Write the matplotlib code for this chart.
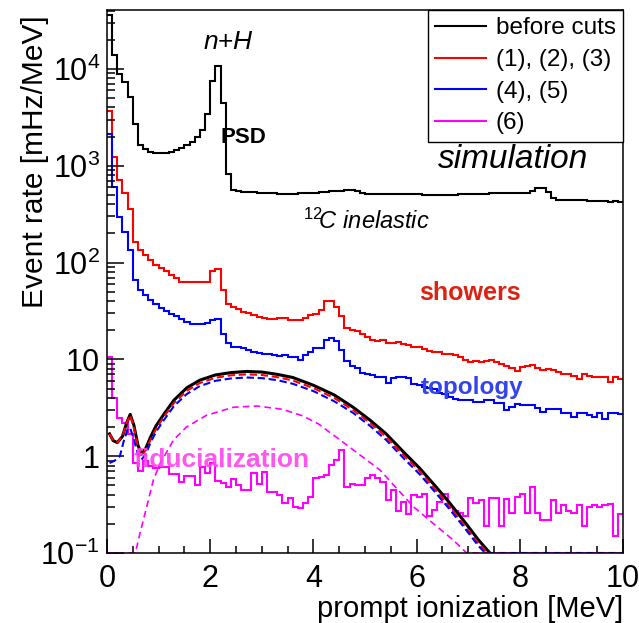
import numpy as np
import matplotlib

matplotlib.use('Agg')
import matplotlib.pyplot as plt
from matplotlib.ticker import FixedLocator, LogLocator, NullFormatter, FuncFormatter, MultipleLocator

plt.rcParams['font.family'] = ['Liberation Sans', 'DejaVu Sans']
plt.rcParams['mathtext.fontset'] = 'custom'
plt.rcParams['mathtext.rm'] = 'Liberation Sans'
plt.rcParams['mathtext.it'] = 'Liberation Sans:italic'

# 100 bins of 0.1 MeV, rates in mHz/MeV
edges = np.linspace(0, 10, 101)

before_cuts = [
    3.6e4, 1.38e4, 8.9e3, 7.3e3, 5.1e3, 2.7e3, 1.62e3, 1.5e3, 1.38e3, 1.35e3,
    1.36e3, 1.37e3, 1.38e3, 1.44e3, 1.51e3, 1.62e3, 1.76e3, 1.99e3, 2.33e3, 3.46e3,
    7.5e3, 1.08e4, 4.5e3, 830, 560, 545, 540, 535, 530, 525,
    520, 520, 518, 515, 515, 515, 515, 518, 520, 525,
    525, 530, 540, 545, 550, 555, 567, 567, 545, 520,
    515, 515, 515, 515, 510, 510, 510, 505, 505, 505,
    505, 500, 495, 495, 495, 495, 495, 500, 505, 510,
    515, 515, 515, 515, 518, 520, 520, 520, 520, 520,
    520, 525, 555, 590, 585, 530, 460, 445, 440, 440,
    440, 440, 438, 436, 435, 430, 428, 425, 428, 425,
]

cuts_123 = [
    3.7e3, 1.23e3, 710, 520, 360, 163, 134, 119, 106, 94,
    87, 81, 75, 69, 63, 63, 63, 63, 63, 63,
    82, 85, 52, 37, 35, 33, 31, 30, 28.5, 27.5,
    26.8, 26.3, 26, 26.5, 27, 25.8, 25.4, 25.4, 26.8, 28.4,
    29.3, 32.2, 40.2, 40.2, 34.8, 27.9, 21.3, 20.3, 19.7, 18.2,
    17.1, 16.0, 15.5, 16.0, 14.8, 14.6, 15.1, 14.4, 14.0, 13.5,
    13.3, 12.7, 12.2, 11.9, 11.9, 11.3, 11.3, 11.0, 10.6, 9.97,
    9.45, 9.67, 9.45, 9.67, 9.8, 9.5, 9.06, 8.5, 8.24, 7.6,
    8.4, 8.5, 8.7, 8.24, 7.7, 7.86, 7.7, 7.4, 7.14, 7.0,
    6.8, 6.2, 7.14, 6.7, 6.6, 6.6, 6.5, 5.9, 6.5, 6.2,
]

cuts_45 = [
    2.14e3, 600, 296, 207, 134, 65.6, 51.8, 46, 41.5, 37.1,
    34.3, 31.7, 29.3, 27.9, 26.4, 24.4, 23.1, 23.1, 23.1, 23.8,
    25.8, 26.4, 18.5, 14.6, 13.5, 13.3, 13.0, 12.5, 12.0, 11.7,
    11.3, 11.3, 11.1, 10.8, 11.0, 10.6, 10.5, 9.8, 11.0, 11.9,
    13.2, 13.2, 16.0, 16.8, 15.5, 12.6, 9.7, 8.5, 8.2, 7.3,
    7.0, 6.9, 6.5, 6.5, 5.7, 6.4, 6.5, 6.5, 6.4, 5.6,
    5.5, 5.2, 5.1, 4.9, 4.5, 4.4, 4.1, 3.94, 3.85, 3.85,
    3.85, 3.65, 3.65, 3.79, 3.79, 3.56, 3.56, 2.99, 3.24, 3.45,
    3.37, 3.37, 3.37, 3.11, 2.87, 3.04, 3.04, 3.04, 2.81, 2.81,
    2.51, 2.76, 2.76, 2.65, 2.55, 2.76, 2.40, 2.76, 2.81, 2.7,
]

cut_6 = [
    10.6, 3.95, 2.5, 2.2, 1.7, 0.85, 0.7, 0.9, 0.8, 0.75,
    0.78, 0.78, 0.66, 0.66, 0.54, 0.62, 0.62, 0.5, 0.78, 0.67,
    0.85, 0.55, 0.53, 0.48, 0.58, 0.50, 0.45, 0.45, 0.67, 0.52,
    0.69, 0.43, 0.43, 0.40, 0.33, 0.37, 0.30, 0.29, 0.33, 0.38,
    0.59, 0.61, 0.64, 0.81, 0.91, 1.17, 0.48, 0.52, 0.50, 0.50,
    0.59, 0.64, 0.59, 0.54, 0.35, 0.45, 0.27, 0.34, 0.25, 0.40,
    0.38, 0.41, 0.24, 0.28, 0.34, 0.41, 0.30, 0.27, 0.26, 0.24,
    0.37, 0.33, 0.35, 0.19, 0.37, 0.37, 0.19, 0.36, 0.26, 0.38,
    0.41, 0.26, 0.48, 0.26, 0.22, 0.22, 0.35, 0.26, 0.31, 0.27,
    0.26, 0.31, 0.19, 0.30, 0.31, 0.30, 0.31, 0.32, 0.15, 0.25,
]

# expected IBD signal spectra (smooth curves)
sig_e_all = [0.05, 0.12, 0.2, 0.3, 0.38, 0.45, 0.52, 0.6, 0.67, 0.75, 0.85, 0.95, 1.1, 1.3, 1.55,
             1.8, 2.1, 2.4, 2.7, 3.0, 3.3, 3.6, 4.0, 4.4, 4.77, 5.1, 5.41, 5.75, 6.06, 6.35,
             6.6, 6.9, 7.2, 7.42]
sig_all = [1.7, 1.45, 1.38, 1.6, 2.2, 2.7, 2.1, 1.3, 1.05, 1.2, 1.6, 2.05, 2.7, 3.8, 5.1,
           6.1, 6.9, 7.3, 7.5, 7.4, 7.0, 6.5, 5.4, 4.3, 3.2, 2.35, 1.7, 1.1, 0.75, 0.5,
           0.35, 0.22, 0.136, 0.1]

sig_e_123 = [0.05, 0.12, 0.2, 0.3, 0.38, 0.45, 0.52, 0.6, 0.67, 0.75, 0.85, 0.95, 1.1, 1.3, 1.55,
             1.8, 2.1, 2.4, 2.7, 3.0, 3.3, 3.6, 4.0, 4.4, 4.77, 5.1, 5.41, 5.75, 6.06, 6.35,
             6.6, 6.9, 7.2, 7.37]
sig_123 = [1.7, 1.45, 1.38, 1.6, 2.2, 2.65, 2.0, 1.25, 1.0, 1.15, 1.5, 1.9, 2.55, 3.55, 4.75,
           5.7, 6.45, 6.85, 7.0, 6.9, 6.55, 6.05, 5.05, 4.0, 3.0, 2.2, 1.58, 1.02, 0.7, 0.46,
           0.32, 0.2, 0.125, 0.1]

sig_e_45 = [0.05, 0.15, 0.25, 0.32, 0.4, 0.45, 0.52, 0.6, 0.67, 0.75, 0.85, 0.95, 1.1, 1.3, 1.55,
            1.8, 2.1, 2.4, 2.7, 3.0, 3.3, 3.6, 4.0, 4.4, 4.77, 5.1, 5.41, 5.75, 6.06, 6.35,
            6.6, 6.9, 7.2, 7.33, 10.0]
sig_45 = [0.85, 0.9, 1.0, 1.4, 1.9, 1.95, 1.5, 1.05, 0.92, 1.05, 1.4, 1.78, 2.35, 3.3, 4.4,
          5.3, 6.0, 6.35, 6.5, 6.4, 6.1, 5.6, 4.7, 3.7, 2.8, 2.05, 1.47, 0.95, 0.65, 0.43,
          0.3, 0.19, 0.118, 0.1, 0.1]

sig_e_6 = [0.0, 0.55, 0.64, 0.77, 0.9, 1.03, 1.29, 1.54, 1.93, 2.45, 2.9, 3.4, 3.8, 4.1, 4.65,
           5.29, 5.94, 6.33, 6.71, 6.97, 10.0]
sig_6 = [0.1, 0.1, 0.16, 0.30, 0.57, 0.84, 1.47, 2.0, 2.65, 3.2, 3.3, 3.05, 2.6, 2.15, 1.3,
         0.72, 0.30, 0.20, 0.136, 0.1, 0.1]

fig = plt.figure(figsize=(6.39, 6.23), dpi=100)
ax = fig.add_axes([0.1674, 0.1124, 0.8076, 0.8716])

ax.stairs(before_cuts, edges, color='black', lw=1.5, baseline=None, label='before cuts')
ax.stairs(cuts_123, edges, color='red', lw=1.5, baseline=None, label='(1), (2), (3)')
ax.stairs(cuts_45, edges, color='blue', lw=1.5, baseline=None, label='(4), (5)')
ax.stairs(cut_6, edges, color='magenta', lw=1.5, baseline=None, label='(6)')

ax.plot(sig_e_all, sig_all, color='black', lw=2.2)
ax.plot(sig_e_123, sig_123, color='red', lw=1.5, dashes=(3.5, 1.8))
ax.plot(sig_e_45, sig_45, color='blue', lw=1.5, dashes=(3.5, 1.8))
ax.plot(sig_e_6, sig_6, color='magenta', lw=1.2, dashes=(4, 2.5))

ax.set_yscale('log')
ax.set_xlim(0, 10)
ax.set_ylim(0.1, 4.07e4)

ax.xaxis.set_major_locator(MultipleLocator(2))
ax.xaxis.set_minor_locator(MultipleLocator(0.5))
ax.yaxis.set_major_locator(FixedLocator([0.1, 1, 10, 100, 1000, 10000]))
ax.yaxis.set_minor_locator(LogLocator(base=10, subs=np.arange(2, 10)))
ax.yaxis.set_minor_formatter(NullFormatter())


def ylab(v, pos):
    labels = {0.1: r'$10^{-1}$', 1: '1', 10: '10', 100: r'$10^{2}$', 1000: r'$10^{3}$', 10000: r'$10^{4}$'}
    for k, s in labels.items():
        if abs(v - k) < 1e-6 * k:
            return s
    return ''


ax.yaxis.set_major_formatter(FuncFormatter(ylab))
ax.tick_params(which='both', direction='in', top=False, right=False, labelsize=22, width=1.1)
ax.tick_params(axis='y', which='major', length=12, pad=5)
ax.tick_params(axis='y', which='minor', length=6)
ax.tick_params(axis='x', which='major', length=10, pad=8)
ax.tick_params(axis='x', which='minor', length=5)
for sp in ax.spines.values():
    sp.set_linewidth(1.1)

ax.set_ylabel('Event rate [mHz/MeV]', fontsize=21.5, loc='top')
ax.yaxis.set_label_coords(-0.113, 0.99)
ax.set_xlabel('prompt ionization [MeV]', fontsize=21, loc='right')
ax.xaxis.set_label_coords(1.0, -0.078)

leg = ax.legend(loc='upper right', bbox_to_anchor=(1, 1), borderaxespad=0, fontsize=17.5,
                fancybox=False, edgecolor='black', framealpha=1, handlelength=2.1,
                handletextpad=0.4, labelspacing=0.4, borderpad=0.3)
leg.get_frame().set_linewidth(1.0)
for h in leg.get_lines():
    h.set_linewidth(1.5)

# labels on the spectra
ax.text(0.2345, 0.941, 'n+H', transform=ax.transAxes, fontsize=19, style='italic', ha='center', va='center')
ax.text(0.787, 0.724, 'simulation', transform=ax.transAxes, fontsize=24, style='italic', ha='center', va='center')
ax.text(0.502, 0.610, r'$^{12}\!$C inelastic', transform=ax.transAxes, fontsize=17, style='italic',
        ha='center', va='center')
ax.text(0.2636, 0.766, 'PSD', transform=ax.transAxes, fontsize=16, fontweight='bold',
        ha='center', va='center', color='black')
ax.text(0.703, 0.479, 'showers', transform=ax.transAxes, fontsize=18, fontweight='bold',
        ha='center', va='center', color='#dd2211')
ax.text(0.707, 0.304, 'topology', transform=ax.transAxes, fontsize=17.5, fontweight='bold',
        ha='center', va='center', color='#3344ee')
ax.text(0.223, 0.171, 'fiducialization', transform=ax.transAxes, fontsize=19, fontweight='bold',
        ha='center', va='center', color='#ff44ee', alpha=0.9)

plt.savefig('out.png', dpi=100)
plt.close()
